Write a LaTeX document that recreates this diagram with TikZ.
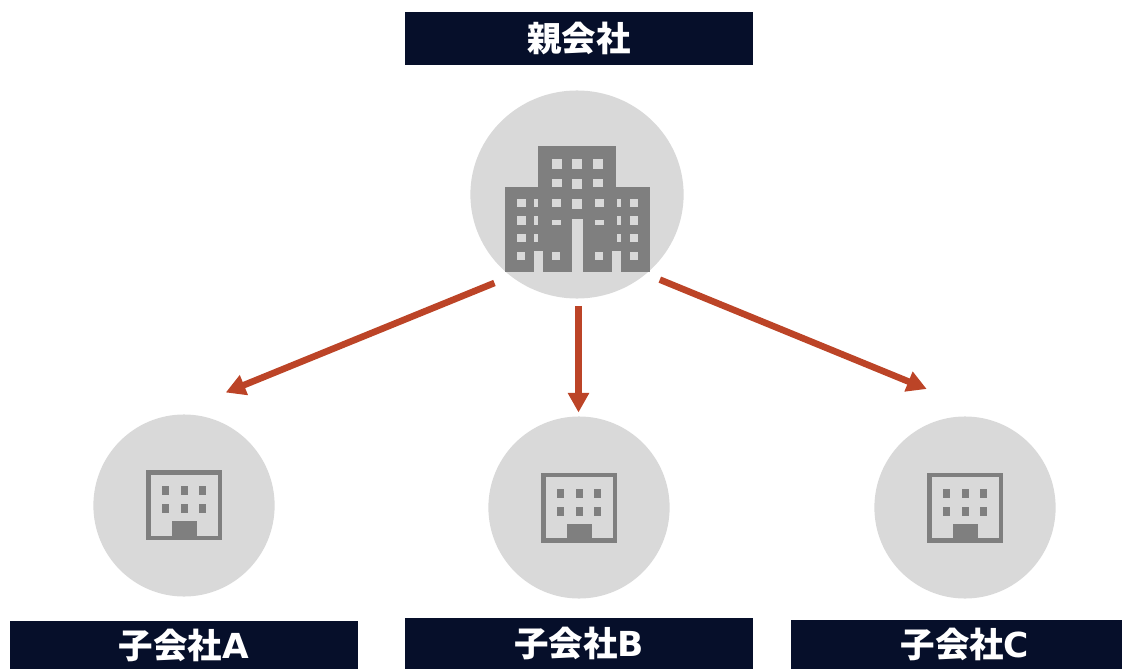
\documentclass[tikz,border=0pt]{standalone}
\usepackage{fontspec}
\usepackage{xcolor}
\newfontfamily\cjkfont{Noto Sans CJK JP}
\newfontfamily\latinfont{DejaVu Sans}
\definecolor{barnavy}{HTML}{060F2A}
\definecolor{discgray}{HTML}{D9D9D9}
\definecolor{icongray}{HTML}{7F7F7F}
\definecolor{arrowred}{HTML}{BC4427}
\usetikzlibrary{arrows.meta,shapes.geometric,calc}

\begin{document}
\begin{tikzpicture}[
    x=0.025cm, y=-0.025cm,
    disc/.style={ellipse, fill=discgray, inner sep=0pt},
    bar/.style={rectangle, fill=barnavy, text=white, inner sep=0pt, font=\cjkfont\bfseries\fontsize{24.5}{28}\selectfont},
    arrow/.style={-{Triangle[length=14pt,width=14.5pt]}, line width=4.7pt, draw=arrowred},
    ink/.style={fill=icongray},
    pane/.style={fill=discgray},
    pics/office/.style={code={
        \fill[ink] (-38,-35) rectangle (38,35);
        \fill[pane] (-33.5,-30.5) rectangle (33.5,30.5);
        \foreach \x in {-22,-3,15} \foreach \y in {-19,-1}
            \fill[ink] (\x,\y) rectangle ++(7,9);
        \fill[ink] (-12,16) rectangle (13,32);
    }}
]
\useasboundingbox (0,0) rectangle (1122,669);

% Companies
\node[disc, minimum width=5.33cm, minimum height=5.2cm] (parent) at (577,194.5) {};
\node[disc, minimum width=4.53cm, minimum height=4.55cm] (childA) at (184,505.5) {};
\node[disc, minimum width=4.53cm, minimum height=4.55cm] (childB) at (579,507.5) {};
\node[disc, minimum width=4.53cm, minimum height=4.55cm] (childC) at (965,507.5) {};

% Labels
\node[bar, minimum width=8.7cm, minimum height=1.325cm] (parentbar) at (579,38.5) {\raisebox{-1.5pt}{親会社}};
\node[bar, minimum width=8.7cm, minimum height=1.2cm] (barA) at (184,645) {\raisebox{-2.2pt}{子会社{\latinfont A}}};
\node[bar, minimum width=8.7cm, minimum height=1.275cm] (barB) at (579,643.5) {\raisebox{-2.2pt}{子会社{\latinfont B}}};
\node[bar, minimum width=8.275cm, minimum height=1.225cm, text width=8.275cm, align=center] (barC) at (956.5,644.5) {\hspace*{0.42cm}\raisebox{-2.2pt}{子会社{\latinfont C}}};

% Large building
\fill[ink] (505,187) rectangle (650,272);
\fill[ink] (538,146) rectangle (616,187);
\fill[pane] (534,251) rectangle (543,272);
\fill[pane] (572,219) rectangle (583,272);
\fill[pane] (612,251) rectangle (620.5,272);
\foreach \x/\w in {551.5/10,572/10,592.5/10} \fill[pane] (\x,159.5) rectangle ++(\w,10);
\foreach \x/\w in {551.5/10,592.5/10} \fill[pane] (\x,179.5) rectangle ++(\w,8);
\fill[pane] (572,179.5) rectangle ++(10,10);
\foreach \x/\w in {551.5/9,594.5/9} \fill[pane] (\x,199.5) rectangle ++(\w,8);
\fill[pane] (572,199.5) rectangle ++(10,10);
\foreach \x/\w in {551.5/9,594.5/9} \fill[pane] (\x,220) rectangle ++(\w,5);
\foreach \y in {199,216.5,234} {
    \fill[pane] (516.5,\y) rectangle ++(9,8.5);
    \fill[pane] (534,\y) rectangle ++(3.7,8.5);
    \fill[pane] (616.5,\y) rectangle ++(4.2,8.5);
    \fill[pane] (629.5,\y) rectangle ++(8.7,8.5);
}
\foreach \x in {516.5,551.5,594.5,629.5} \fill[pane] (\x,251.5) rectangle ++(8.7,8.7);

% Small buildings
\pic at (184,505) {office};
\pic at (579,507.5) {office};
\pic at (965,507.5) {office};

% Arrows
\coordinate (tipA) at (225.7,392.5);
\coordinate (tipB) at (578.5,412.5);
\coordinate (tipC) at (926.7,389);
\draw[arrow, shorten <=12.5pt] (parent.231) -- (tipA);
\draw[arrow, shorten <=5pt] (parent.south -| tipB) -- (tipB);
\draw[arrow, shorten <=10.5pt] (parent.311) -- (tipC);

\end{tikzpicture}
\end{document}
